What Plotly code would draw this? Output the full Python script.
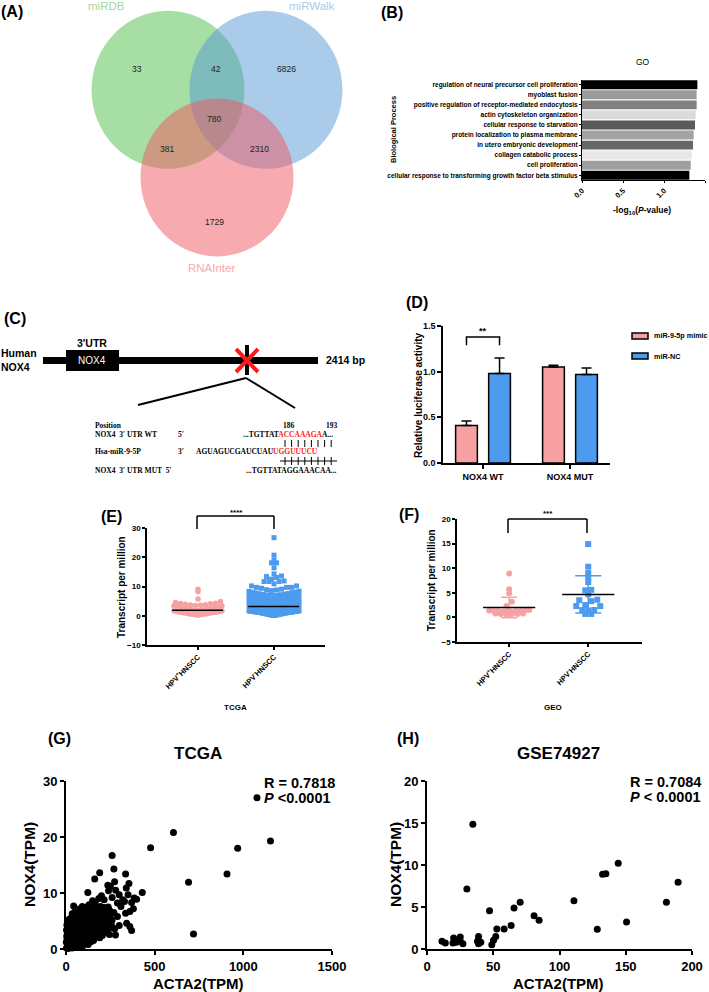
import math
import plotly.graph_objects as go

W, H = 709, 992
SANS = "Liberation Sans, Arial, sans-serif"
NARROW = "Liberation Sans Narrow, Liberation Sans, Arial Narrow, sans-serif"
SERIF = "Liberation Serif, Times New Roman, serif"
PINK = "#F7A1A3"
BLUE = "#4C9BEF"

# ---------------- data ----------------
venn_sets = ["miRDB", "miRWalk", "RNAInter"]
venn_regions = ["miRDB", "miRDB&miRWalk", "miRWalk", "all", "miRDB&RNAInter", "miRWalk&RNAInter", "RNAInter"]
venn_counts = [33, 42, 6826, 780, 381, 2310, 1729]

go_terms = ["regulation of neural precursor cell proliferation", "myoblast fusion",
            "positive regulation of receptor-mediated endocytosis", "actin cytoskeleton organization",
            "cellular response to starvation", "protein localization to plasma membrane",
            "in utero embryonic development", "collagen catabolic process", "cell proliferation",
            "cellular response to transforming growth factor beta stimulus"]
go_values = [1.407, 1.398, 1.398, 1.386, 1.378, 1.362, 1.354, 1.338, 1.326, 1.309]
go_colors = ["#000000", "#9b9b9b", "#808080", "#dadada", "#5a5a5a", "#a3a3a3", "#676767", "#e8e8e8", "#9e9e9e", "#000000"]

luc_groups = ["NOX4 WT", "NOX4 MUT"]
luc_mimic = [0.41, 1.05]
luc_mimic_err = [0.05, 0.02]
luc_nc = [0.98, 0.97]
luc_nc_err = [0.17, 0.07]

tcga_groups = ["HPV<sup>+</sup>HNSCC", "HPV<sup>-</sup>HNSCC"]
tcga_hpv_pos = [9.1, 8.3, 5.7, 4.9, 4.5, 4.3, 4.1, 3.9, 4.2, 3.6, 3.8, 3.4, 3.7, 3.2, 3.5, 3.0, 3.3, 2.8, 3.1, 2.9,
                2.6, 2.7, 2.5, 2.4, 2.6, 2.3, 2.2, 2.4, 2.1, 2.0, 2.3, 1.9, 2.0, 2.1, 1.8, 1.9, 2.0, 1.7, 1.8, 1.6,
                1.9, 1.5, 1.7, 1.4, 1.6, 1.3, 1.5, 1.2, 1.4, 1.1, 1.3, 1.0, 1.2, 0.9, 1.1, 0.8, 1.0, 0.7, 0.9, 0.6,
                0.8, 0.5, 0.7, 0.4, 0.6, 0.3, 0.5, 0.2, 0.4, 0.3, 0.6, 0.8, 1.0, 1.2, 2.2, 2.5, 2.8, 3.1]
tcga_hpv_neg = [26.7, 20.7, 19.0, 18.1, 18.1, 16.4, 14.3, 13.6, 13.4, 13.1, 12.5, 11.9, 11.7, 11.7, 11.7, 10.9, 10.2, 10.2, 9.7, 9.7, 9.7,
                9.4, 9.1, 8.9, 8.8, 8.6, 8.4, 8.3, 8.1, 8.0,
                7.9, 7.8, 7.6, 7.5, 7.4, 7.3, 7.2, 7.1, 7.0, 7.0,
                6.9, 6.8, 6.7, 6.6, 6.5, 6.4, 6.4, 6.3, 6.2, 6.1, 6.0, 6.0,
                5.9, 5.8, 5.8, 5.7, 5.6, 5.5, 5.5, 5.4, 5.3, 5.3, 5.2, 5.1, 5.1, 5.0, 5.0, 5.0,
                4.9, 4.9, 4.8, 4.8, 4.7, 4.7, 4.6, 4.6, 4.5, 4.5, 4.4, 4.4, 4.3, 4.3, 4.2, 4.2, 4.1, 4.1, 4.1, 4.0, 4.0, 4.0, 4.0, 4.0,
                3.9, 3.9, 3.9, 3.8, 3.8, 3.8, 3.7, 3.7, 3.7, 3.7, 3.6, 3.6, 3.6, 3.5, 3.5, 3.5, 3.5, 3.4, 3.4, 3.4, 3.4,
                3.3, 3.3, 3.3, 3.3, 3.2, 3.2, 3.2, 3.2, 3.1, 3.1, 3.1, 3.0, 3.0, 3.0,
                2.9, 2.9, 2.9, 2.9, 2.9, 2.8, 2.8, 2.8, 2.8, 2.7, 2.7, 2.7, 2.7, 2.7, 2.6, 2.6, 2.6, 2.6, 2.5, 2.5, 2.5, 2.5, 2.5,
                2.4, 2.4, 2.4, 2.4, 2.3, 2.3, 2.3, 2.3, 2.3, 2.2, 2.2, 2.2, 2.2, 2.1, 2.1, 2.1, 2.1, 2.1, 2.0, 2.0, 2.0, 2.0,
                1.9, 1.9, 1.9, 1.9, 1.8, 1.8, 1.8, 1.8, 1.7, 1.7, 1.7, 1.7, 1.6, 1.6, 1.6, 1.6, 1.5, 1.5, 1.5, 1.5,
                1.4, 1.4, 1.4, 1.4, 1.3, 1.3, 1.3, 1.3, 1.2, 1.2, 1.2, 1.2, 1.1, 1.1, 1.1, 1.1, 1.0, 1.0, 1.0, 1.0,
                0.9, 0.9, 0.9, 0.8, 0.8, 0.8, 0.7, 0.7, 0.7, 0.6, 0.6, 0.6, 0.5, 0.5, 0.5, 0.4, 0.4, 0.4, 0.3, 0.3, 0.3,
                0.2, 0.2, 0.1, 0.1]

geo_hpv_pos = [8.9, 5.7, 4.9, 3.2, 2.3, 1.5, 1.4, 1.4, 1.3, 1.3, 1.3, 1.3, 1.2, 1.2, 1.2, 0.8, 0.8, 0.7, 0.7, 0.7, 0.6]
geo_hpv_neg = [14.9, 10.3, 9.0, 8.1, 7.2, 5.6, 5.5, 4.7, 3.6, 3.5, 3.3, 2.5, 2.3, 2.3, 1.5, 1.5, 1.4, 0.7, 0.7]

g_acta2 = [3, 8, 12, 18, 22, 28, 35, 40, 47, 55, 62, 70, 78, 85, 95, 105, 115, 125, 140, 155,
           2, 6, 14, 20, 26, 33, 42, 50, 58, 66, 74, 82, 90, 100, 110, 120, 132, 145, 160, 175, 190, 205,
           4, 10, 16, 24, 30, 38, 45, 52, 60, 68, 76, 86, 96, 106, 118, 130, 142, 155, 170, 185, 198, 212, 228, 245,
           3, 9, 15, 22, 29, 36, 44, 53, 62, 70, 80, 90, 100, 112, 124, 136, 150, 164, 178, 192, 210, 225, 240, 262,
           5, 12, 20, 28, 36, 45, 55, 65, 75, 88, 98, 110, 122, 135, 148, 160, 175, 190, 205, 220, 236, 255,
           18, 30, 40, 52, 63, 75, 86, 97, 108, 120, 132, 145, 158, 172, 185, 200, 215, 232, 248,
           35, 50, 62, 72, 85, 96, 108, 120, 134, 148, 160, 175, 190, 205, 225, 245,
           43, 78, 92, 105, 118, 130, 145, 160, 178, 195, 215, 238,
           123, 150, 165, 200, 215, 185, 190, 162, 236, 250, 260, 270, 274, 240, 260, 280, 290, 300, 310, 320,
           330, 336, 350, 355, 370, 336, 360, 380, 342, 360, 370, 279, 290, 300, 270, 430, 398, 385, 340, 275, 260,
           477, 606, 691, 719, 908, 968, 1077, 1153]
g_nox4 = [0.2, 0.5, 0.1, 0.8, 0.3, 0.6, 0.2, 0.9, 0.4, 0.7, 0.3, 0.9, 0.5, 1.0, 0.6, 0.9, 1.2, 0.8, 1.3, 1.5,
          1.2, 1.8, 1.5, 1.9, 1.3, 1.7, 1.4, 1.9, 1.5, 1.8, 1.4, 2.0, 1.6, 1.9, 1.7, 2.0, 1.8, 2.1, 1.9, 2.2, 2.0, 2.4,
          2.3, 2.8, 2.5, 2.9, 2.4, 2.7, 2.5, 2.9, 2.6, 3.0, 2.7, 2.9, 2.6, 3.0, 2.7, 3.0, 2.8, 3.1, 2.9, 3.2, 2.9, 3.1, 3.0, 2.6,
          3.4, 3.9, 3.5, 3.8, 3.3, 3.9, 3.6, 3.8, 3.4, 3.9, 3.6, 3.9, 3.5, 3.9, 3.6, 4.0, 3.7, 3.9, 3.6, 4.0, 3.8, 4.1, 3.6, 3.8,
          4.3, 4.1, 4.6, 4.2, 4.8, 4.4, 4.9, 4.3, 4.8, 4.5, 4.9, 4.4, 4.8, 4.5, 4.9, 4.4, 4.8, 4.5, 4.9, 4.6, 4.9, 4.4,
          5.3, 5.6, 5.2, 5.8, 5.4, 5.9, 5.3, 5.7, 5.4, 5.9, 5.5, 5.8, 5.3, 5.9, 5.5, 5.8, 5.4, 5.7, 5.9,
          6.3, 6.6, 6.2, 6.8, 6.4, 6.9, 6.3, 6.7, 6.4, 6.9, 6.5, 6.8, 6.3, 6.7, 6.4, 6.9,
          7.7, 7.2, 7.6, 7.1, 7.5, 7.9, 7.3, 7.7, 7.2, 7.6, 7.4, 7.5,
          10.1, 8.6, 8.3, 9.5, 8.8, 9.0, 13.6, 12.5, 11.4, 11.2, 16.7, 14.3, 12.0, 10.4, 9.2, 10.5, 8.2, 9.7, 7.6, 8.8,
          8.5, 13.4, 9.7, 11.7, 8.3, 6.4, 6.7, 7.2, 4.6, 4.0, 3.3, 2.5, 5.8, 4.2, 6.5, 10.1, 8.9, 9.1, 10.9, 3.6, 5.2,
          18.1, 20.8, 11.9, 2.7, 13.4, 18.0, 27.0, 19.3]

h_acta2 = [34.6, 30.1, 47.2, 52.7, 58.2, 63.5, 65.7, 70.3, 80.8, 84.6, 110.9, 128.5, 132.5, 135.0, 144.3, 150.6,
           180.7, 189.5, 11.3, 13.8, 20.1, 25.1, 19.6, 22.1, 27.1, 38.9, 38.1, 40.6, 48.9, 50.2, 51.9, 38.9, 25.1]
h_nox4 = [14.85, 7.13, 4.55, 2.38, 2.38, 2.81, 4.87, 5.58, 3.96, 3.41, 5.74, 2.34, 8.91, 8.95, 10.22, 3.21,
          5.58, 7.96, 0.91, 0.71, 1.31, 1.43, 0.71, 0.79, 0.63, 1.50, 0.91, 0.79, 0.51, 1.03, 1.50, 0.63, 0.91]


# ---------------- helpers ----------------
def X(px):
    return px / W


def Y(py):
    return 1 - py / H


def dx(a, b):
    return [a / W, b / W]


def dy(top, bottom):
    return [1 - bottom / H, 1 - top / H]


annotations = []
shapes = []


def text(x, y, s, size, bold=False, color="black", xanchor="center", yanchor="middle",
         angle=0, family=SANS, xref="paper", yref="paper"):
    annotations.append(dict(
        x=X(x) if xref == "paper" else x, y=Y(y) if yref == "paper" else y,
        xref=xref, yref=yref, text=s, showarrow=False, textangle=angle,
        font=dict(size=size, color=color, family=family, weight="bold" if bold else "normal"),
        xanchor=xanchor, yanchor=yanchor, borderpad=0))


def pline(x0, y0, x1, y1, color="black", width=1.5):
    shapes.append(dict(type="line", xref="paper", yref="paper", x0=X(x0), y0=Y(y0), x1=X(x1), y1=Y(y1),
                       line=dict(color=color, width=width)))


def prect(x0, y0, x1, y1, fill, lc="black", lw=0):
    shapes.append(dict(type="rect", xref="paper", yref="paper", x0=X(x0), y0=Y(y0), x1=X(x1), y1=Y(y1),
                       fillcolor=fill, line=dict(color=lc, width=lw)))


def swarm(values, center, px_y, px_x, marker_px, half_px):
    bin_h = marker_px / px_y
    groups = {}
    for i, v in enumerate(values):
        groups.setdefault(int(math.floor(v / bin_h)), []).append(i)
    xs = [center] * len(values)
    for idx in groups.values():
        n = len(idx)
        step = marker_px
        if n > 1 and (n - 1) * marker_px > 2 * half_px:
            step = 2 * half_px / (n - 1)
        slots = sorted(range(n), key=lambda k: (abs(k - (n - 1) / 2), k))
        ordered = sorted(idx, key=lambda i: values[i])
        for rank, i in enumerate(ordered):
            k = slots[rank]
            xs[i] = center + (k - (n - 1) / 2) * step / px_x
    return xs


def median(v):
    s = sorted(v)
    n = len(s)
    return s[n // 2] if n % 2 else (s[n // 2 - 1] + s[n // 2]) / 2


def mean(v):
    return sum(v) / len(v)


def sd(v):
    m = mean(v)
    return math.sqrt(sum((a - m) ** 2 for a in v) / (len(v) - 1))


fig = go.Figure()

# ---------------- (A) Venn ----------------
SX, SY = 76.5, 79.0
CXP, CYP = 217.0, 119.0
side = 1.28
hgt = side * math.sqrt(3) / 2
centers = [(-side / 2, hgt / 3), (side / 2, hgt / 3), (0, -2 * hgt / 3)]
venn_fill = ["rgb(77,190,72)", "rgb(85,153,213)", "rgb(240,85,95)"]
for (cx, cy), col in zip(centers, venn_fill):
    shapes.append(dict(type="circle", xref="x", yref="y", x0=cx - 1, x1=cx + 1, y0=cy - 1, y1=cy + 1,
                       fillcolor=col, opacity=0.5, line=dict(width=0), layer="below"))
fig.add_trace(go.Scatter(x=[c[0] for c in centers], y=[c[1] for c in centers], mode="markers",
                         marker=dict(size=1, opacity=0), hoverinfo="skip", xaxis="x", yaxis="y"))
venn_label_px = [(137, 69), (216, 69), (286, 69), (214, 119), (167, 149), (259, 149), (214, 222)]
for (lx, ly), c in zip(venn_label_px, venn_counts):
    text((lx - CXP) / SX, (CYP - ly) / SY, str(c), 8.5, color="#222", xref="x", yref="y")
set_label_px = [(107, 6), (312, 6), (211, 268)]
set_label_col = ["#a6d7a0", "#a9cbea", "#f5a9ae"]
for (lx, ly), s, c in zip(set_label_px, venn_sets, set_label_col):
    text(lx, ly, s, 11.5, color=c)
text(0, 12, "(A)", 16, bold=True, xanchor="left")

# ---------------- (B) GO ----------------
fig.add_trace(go.Bar(x=go_values, y=go_terms, orientation="h", width=0.88,
                     marker=dict(color=go_colors, line=dict(width=0)), xaxis="x2", yaxis="y2"))
text(380, 13, "(B)", 16, bold=True, xanchor="left")
text(643, 62, "GO", 8.5)
text(393, 130, "Biological Process", 7.5, bold=True, angle=-90)
text(642, 211, "-log<sub>10</sub>(<i>P</i>-value)", 8.5, bold=True)

# ---------------- (C) diagram ----------------
text(3, 318, "(C)", 16, bold=True, xanchor="left")
text(0, 353, "Human", 10.5, bold=True, xanchor="left")
text(0, 367, "NOX4", 10.5, bold=True, xanchor="left")
prect(43, 357, 318, 364, "black")
prect(66, 350, 119, 371, "black")
text(92, 343, "3'UTR", 10.5, bold=True)
text(92, 360.5, "NOX4", 10, color="white")
pline(247, 345, 247, 375, width=4)
pline(236, 349, 258, 372, color="#ff1a1a", width=4)
pline(236, 372, 258, 349, color="#ff1a1a", width=4)
text(325, 360, "2414 bp", 10.5, bold=True, xanchor="left")
pline(246, 378, 138, 405, width=2)
pline(246, 378, 295, 408, width=2)
RED = "<span style='color:#ff2020'>%s</span>"
text(94, 425, "Position", 7.5, bold=True, xanchor="left", family=SERIF)
text(282, 425, "186", 7.5, bold=True, xanchor="left", family=SERIF)
text(325, 425, "193", 7.5, bold=True, xanchor="left", family=SERIF)
text(94, 434, "NOX4  3\u2032 UTR WT", 7.5, bold=True, xanchor="left", family=SERIF)
text(177, 434, "5\u2032", 7.5, bold=True, xanchor="left", family=SERIF)
text(242, 434, "...TGTTAT" + RED % "ACCAAAGA" + "A...", 7.5, bold=True, xanchor="left", family=SERIF)
text(94, 452, "Hsa-miR-9-5P", 7.5, bold=True, xanchor="left", family=SERIF)
text(177, 452, "3\u2032", 7.5, bold=True, xanchor="left", family=SERIF)
text(195, 452, "AGUAGUCGAUCUAU" + RED % "UGGUUUCU", 7.5, bold=True, xanchor="left", family=SERIF)
text(94, 470, "NOX4  3\u2032 UTR MUT  5\u2032", 7.5, bold=True, xanchor="left", family=SERIF)
text(245, 470, "...TGTTATAGGAAACAA...", 7.5, bold=True, xanchor="left", family=SERIF)
for k in range(8):
    bx = 285 + 6.6 * k
    pline(bx, 440, bx, 447, width=1)
    pline(bx, 457, bx, 465, width=1)
pline(280, 461, 337, 461, width=1)

# ---------------- (D) luciferase ----------------
fig.add_trace(go.Bar(x=[0, 1], y=luc_mimic, width=0.25, offset=-0.315, name="miR-9-5p mimic",
                     marker=dict(color=PINK, line=dict(color="black", width=1.5)),
                     error_y=dict(type="data", symmetric=False, array=luc_mimic_err, arrayminus=[0, 0],
                                  color="black", thickness=1.5, width=5),
                     xaxis="x3", yaxis="y3"))
fig.add_trace(go.Bar(x=[0, 1], y=luc_nc, width=0.25, offset=0.065, name="miR-NC",
                     marker=dict(color=BLUE, line=dict(color="black", width=1.5)),
                     error_y=dict(type="data", symmetric=False, array=luc_nc_err, arrayminus=[0, 0],
                                  color="black", thickness=1.5, width=5),
                     xaxis="x3", yaxis="y3"))
shapes.append(dict(type="path", xref="x3", yref="y3",
                   path="M -0.19 1.29 L -0.19 1.38 L 0.19 1.38 L 0.19 1.29",
                   line=dict(color="black", width=1.5)))
text(483, 331, "**", 9, bold=True)
text(405, 302, "(D)", 16, bold=True, xanchor="left")
text(418, 395, "Relative luciferase activity", 10, bold=True, angle=-90)
prect(632, 333, 648, 339, PINK, lw=1.5)
prect(632, 353, 648, 359, BLUE, lw=1.5)
text(653, 336, "miR-9-5p mimic", 7.2, bold=True, xanchor="left")
text(653, 356, "miR-NC", 7.2, bold=True, xanchor="left")

# ---------------- (E) TCGA dot plot ----------------
E_PXY, E_PXX = 117 / 40, 76.0
ex_pos = swarm(tcga_hpv_pos, 0, E_PXY, E_PXX, 5, 24)
ex_neg = swarm(tcga_hpv_neg, 1, E_PXY, E_PXX, 5, 25)
fig.add_trace(go.Scatter(x=ex_pos, y=tcga_hpv_pos, mode="markers", cliponaxis=False,
                         marker=dict(symbol="circle", size=5.5, color=PINK), xaxis="x4", yaxis="y4"))
fig.add_trace(go.Scatter(x=ex_neg, y=tcga_hpv_neg, mode="markers", cliponaxis=False,
                         marker=dict(symbol="square", size=5, color=BLUE), xaxis="x4", yaxis="y4"))
for c, vals in ((0, tcga_hpv_pos), (1, tcga_hpv_neg)):
    m = median(vals)
    fig.add_trace(go.Scatter(x=[c - 0.34, c + 0.33], y=[m, m], mode="lines",
                             line=dict(color="black", width=1.5), xaxis="x4", yaxis="y4"))
text(100, 516, "(E)", 16, bold=True, xanchor="left")
text(236, 512, "****", 8, bold=True)
pline(197, 529, 197, 516)
pline(197, 516, 274, 516)
pline(274, 516, 274, 529)
text(121, 587, "Transcript per million", 10, bold=True, angle=-90)
text(235, 707, "TCGA", 8, bold=True)

# ---------------- (F) GEO dot plot ----------------
F_PXY, F_PXX = 123 / 25, 79.0
fx_pos = swarm(geo_hpv_pos, 0, F_PXY, F_PXX, 5.5, 20)
fx_neg = swarm(geo_hpv_neg, 1, F_PXY, F_PXX, 6, 22)
fig.add_trace(go.Scatter(x=fx_pos, y=geo_hpv_pos, mode="markers", cliponaxis=False,
                         marker=dict(symbol="circle", size=6, color=PINK), xaxis="x5", yaxis="y5"))
fig.add_trace(go.Scatter(x=fx_neg, y=geo_hpv_neg, mode="markers", cliponaxis=False,
                         marker=dict(symbol="square", size=6, color=BLUE), xaxis="x5", yaxis="y5"))
for c, vals, col, cap in ((0, geo_hpv_pos, PINK, 8), (1, geo_hpv_neg, BLUE, 13)):
    m, s = mean(vals), sd(vals)
    fig.add_trace(go.Scatter(x=[c], y=[m], mode="markers", marker=dict(size=1, opacity=0),
                             error_y=dict(type="data", array=[s], color=col, thickness=1.5, width=cap),
                             xaxis="x5", yaxis="y5"))
    fig.add_trace(go.Scatter(x=[c - 0.33, c + 0.33], y=[m, m], mode="lines",
                             line=dict(color="black", width=1.5), xaxis="x5", yaxis="y5"))
text(398, 514, "(F)", 16, bold=True, xanchor="left")
text(548, 513, "***", 8, bold=True)
pline(508, 533, 508, 519)
pline(508, 519, 587, 519)
pline(587, 519, 587, 533)
text(431, 580, "Transcript per million", 10, bold=True, angle=-90)
text(553, 707, "GEO", 8, bold=True)

# ---------------- (G) TCGA correlation ----------------
fig.add_trace(go.Scatter(x=g_acta2, y=g_nox4, mode="markers", cliponaxis=False,
                         marker=dict(size=7, color="black"), xaxis="x6", yaxis="y6"))
text(47, 738, "(G)", 16, bold=True, xanchor="left")
text(198, 753, "TCGA", 17, bold=True)
text(263, 783, "R = 0.7818", 14.5, bold=True, xanchor="left")
text(263, 798, "<i>P</i> <0.0001", 14.5, bold=True, xanchor="left")
text(29, 865, "NOX4(TPM)", 15.5, bold=True, angle=-90)
text(198, 983, "ACTA2(TPM)", 15, bold=True)

# ---------------- (H) GEO correlation ----------------
fig.add_trace(go.Scatter(x=h_acta2, y=h_nox4, mode="markers", cliponaxis=False,
                         marker=dict(size=7, color="black"), xaxis="x7", yaxis="y7"))
text(396, 738, "(H)", 16, bold=True, xanchor="left")
text(558, 753, "GSE74927", 17, bold=True)
text(702, 782, "R = 0.7084", 14.5, bold=True, xanchor="right")
text(702, 797, "<i>P</i> < 0.0001", 14.5, bold=True, xanchor="right")
text(395, 865, "NOX4(TPM)", 15.5, bold=True, angle=-90)
text(558, 983, "ACTA2(TPM)", 15, bold=True)


# ---------------- axes ----------------
def ax(domain, anchor, size, lw=1.5, ticklen=3, **kw):
    d = dict(domain=domain, anchor=anchor, showgrid=False, zeroline=False, showline=True,
             linecolor="black", linewidth=lw, ticks="outside", ticklen=ticklen, tickwidth=lw,
             tickcolor="black", tickfont=dict(size=size, family=SANS, color="black", weight="bold"),
             fixedrange=True, automargin=False)
    d.update(kw)
    return d


hidden = dict(visible=False, showgrid=False, zeroline=False, fixedrange=True, automargin=False)
layout = dict(
    template="none",
    width=W, height=H, margin=dict(l=0, r=0, t=0, b=0, pad=0), paper_bgcolor="white",
    plot_bgcolor="rgba(0,0,0,0)",
    showlegend=False, font=dict(family=SANS, color="black"), barmode="overlay",
    annotations=annotations, shapes=shapes,
    xaxis=dict(hidden, domain=dx(0, 360), anchor="y", range=[(0 - CXP) / SX, (360 - CXP) / SX]),
    yaxis=dict(hidden, domain=dy(0, 280), anchor="x", range=[(CYP - 280) / SY, (CYP - 0) / SY]),
    xaxis2=ax(dx(582, 705), "y2", 7.5, lw=1, ticklen=2, range=[0, 1.5], tickvals=[0, 0.5, 1.0, 1.5],
              ticktext=["0.0", "0.5", "1.0", "1.5"], tickangle=-45),
    yaxis2=ax(dy(79.7, 180.3), "x2", 6.5, lw=1, ticklen=2, range=[9.5, -0.5], type="category",
              categoryorder="array", categoryarray=go_terms,
              tickfont=dict(size=6.5, family=NARROW, color="black", weight="bold")),
    xaxis3=ax(dx(443, 610), "y3", 9, ticklen=4, range=[-0.46, 1.46], tickvals=[0, 1], ticktext=luc_groups),
    yaxis3=ax(dy(326, 463), "x3", 9, ticklen=4, range=[0, 1.5], tickvals=[0, 0.5, 1.0, 1.5],
              ticktext=["0.0", "0.5", "1.0", "1.5"]),
    xaxis4=ax(dx(147, 325), "y4", 7.5, range=[-0.67, 1.67], tickvals=[0, 1], ticktext=tcga_groups, tickangle=-45),
    yaxis4=ax(dy(528, 645), "x4", 8, range=[-10, 30], tickvals=[-10, 0, 10, 20, 30]),
    xaxis5=ax(dx(457, 642), "y5", 7.5, range=[-0.66, 1.68], tickvals=[0, 1], ticktext=tcga_groups, tickangle=-45),
    yaxis5=ax(dy(519, 642), "x5", 8, range=[-5, 20], tickvals=[-5, 0, 5, 10, 15, 20]),
    xaxis6=ax(dx(66, 332), "y6", 13, lw=2, ticklen=4, range=[0, 1500], tickvals=[0, 500, 1000, 1500]),
    yaxis6=ax(dy(781, 949), "x6", 13, lw=2, ticklen=4, range=[0, 30], tickvals=[0, 10, 20, 30]),
    xaxis7=ax(dx(427, 692), "y7", 13, lw=2, ticklen=4, range=[0, 200], tickvals=[0, 50, 100, 150, 200]),
    yaxis7=ax(dy(781, 949), "x7", 13, lw=2, ticklen=4, range=[0, 20], tickvals=[0, 5, 10, 15, 20]),
)
fig.update_layout(**layout)
fig.write_html("out.html", config={"displayModeBar": False},
               post_script="document.body.style.margin='0';document.body.style.padding='0';")
